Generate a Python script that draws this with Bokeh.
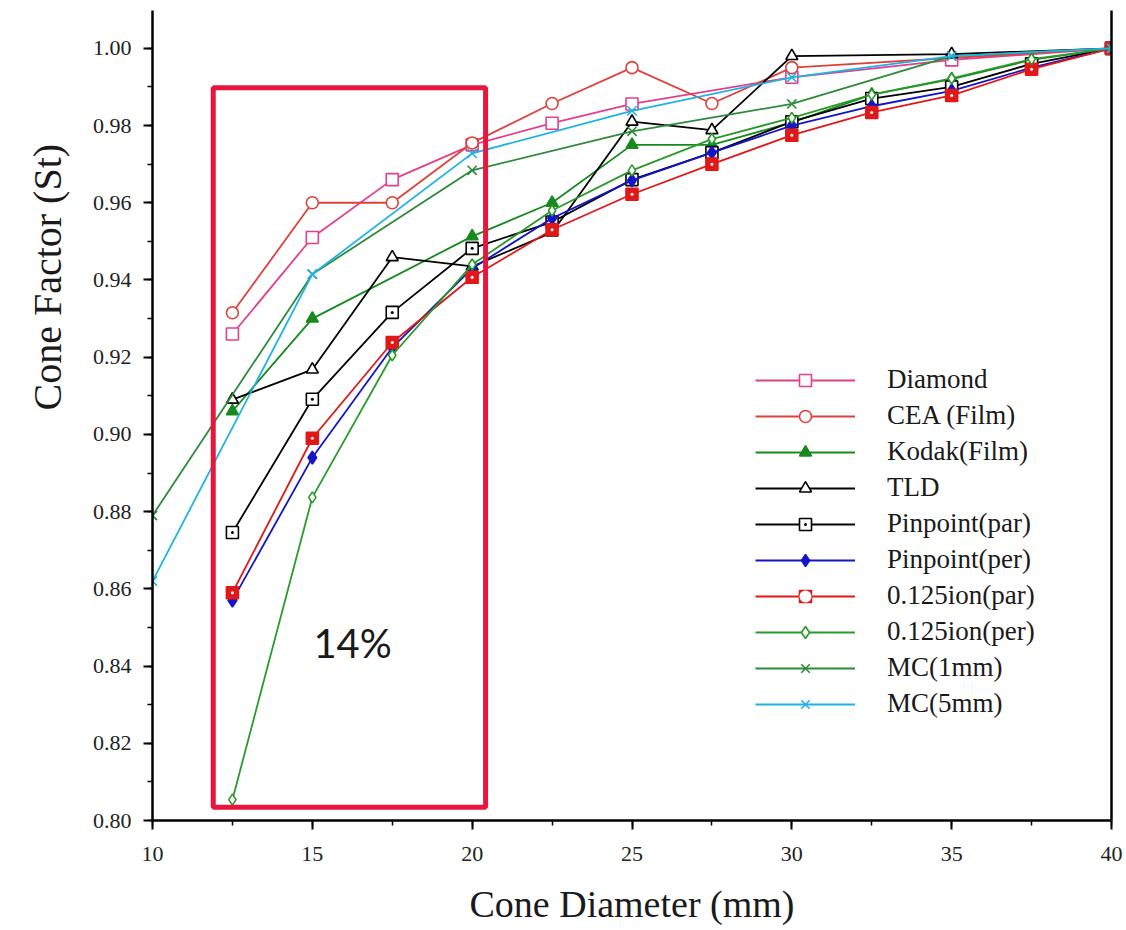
from bokeh.plotting import figure
from bokeh.models import (Range1d, LinearAxis, SingleIntervalTicker, FixedTicker,
                          PrintfTickFormatter, Legend, LegendItem, Label, BoxAnnotation,
                          Title)
from bokeh.embed import file_html
from bokeh.resources import INLINE

# Cone diameters (mm)
x_all = [12.5, 15, 17.5, 20, 22.5, 25, 27.5, 30, 32.5, 35, 37.5, 40]
x_mc = [10, 15, 20, 25, 30, 35, 40]

x_diamond = [12.5, 15, 17.5, 20, 22.5, 25, 30, 35, 40]
y_diamond = [0.926, 0.951, 0.966, 0.975, 0.9806, 0.9856, 0.9925, 0.997, 1.000]

x_cea = [12.5, 15, 17.5, 20, 22.5, 25, 27.5, 30, 40]
y_cea = [0.9315, 0.960, 0.960, 0.9755, 0.9857, 0.995, 0.9857, 0.995, 1.000]

x_kodak = [12.5, 15, 20, 22.5, 25, 27.5, 30, 32.5, 35, 37.5, 40]
y_kodak = [0.906, 0.930, 0.9513, 0.960, 0.975, 0.975, 0.9808, 0.988, 0.992, 0.997, 1.000]

x_tld = [12.5, 15, 17.5, 20, 22.5, 25, 27.5, 30, 35, 40]
y_tld = [0.909, 0.9168, 0.9459, 0.9435, 0.9523, 0.981, 0.9788, 0.998, 0.9985, 1.000]

y_pp_par = [0.8746, 0.9091, 0.9316, 0.9482, 0.955, 0.966, 0.973, 0.981, 0.987, 0.990, 0.996, 1.000]
y_pp_per = [0.857, 0.894, 0.9225, 0.943, 0.956, 0.9658, 0.973, 0.980, 0.985, 0.989, 0.995, 1.000]
y_ion_par = [0.859, 0.899, 0.9238, 0.9407, 0.953, 0.9622, 0.970, 0.9775, 0.9834, 0.9878, 0.9946, 1.000]
y_ion_per = [0.8054, 0.8837, 0.9205, 0.944, 0.958, 0.9684, 0.9765, 0.982, 0.988, 0.9922, 0.9972, 1.000]

y_mc1 = [0.879, 0.9415, 0.9684, 0.9785, 0.9856, 0.998, 1.000]
y_mc5 = [0.862, 0.9415, 0.9728, 0.9838, 0.9925, 0.998, 1.000]

# highlighted region: left, right, bottom, top
box_bounds = (11.9, 20.42, 0.8034, 0.9898)
box_text = "14%"

SERIF = "Liberation Serif"

p = figure(width=1126, height=930,
           x_range=Range1d(10, 40), y_range=Range1d(0.80, 1.0098),
           output_backend="svg", toolbar_location=None,
           min_border_left=152, min_border_right=15,
           min_border_top=10, min_border_bottom=110)
p.grid.visible = False
p.outline_line_color = None
p.background_fill_color = "white"
p.border_fill_color = "white"

# x axis
xa = p.xaxis[0]
xa.ticker = SingleIntervalTicker(interval=5, num_minor_ticks=2)
xa.axis_label = "Cone Diameter (mm)"
xa.axis_label_text_font = SERIF
xa.axis_label_text_font_size = "38px"
xa.axis_label_text_font_style = "normal"
xa.axis_label_text_color = "#1a1a1a"
xa.axis_label_standoff = 19
xa.major_label_standoff = 17

# y axis
ya = p.yaxis[0]
ya.ticker = SingleIntervalTicker(interval=0.02, num_minor_ticks=2)
ya.formatter = PrintfTickFormatter(format="%.2f")
ya.major_label_standoff = 12

for ax in (xa, ya):
    ax.major_label_text_font = SERIF
    ax.major_label_text_font_size = "22px"
    ax.major_label_text_font_style = "normal"
    ax.major_label_text_color = "#222222"
    ax.axis_line_width = 2.5
    ax.major_tick_line_width = 2
    ax.minor_tick_line_width = 1.5
    ax.major_tick_in = 0
    ax.major_tick_out = 9
    ax.minor_tick_in = 0
    ax.minor_tick_out = 5

# plain right-hand spine
ra = LinearAxis(ticker=FixedTicker(ticks=[]), axis_line_width=2.5,
                major_tick_line_color=None, minor_tick_line_color=None,
                major_label_text_color=None)
p.add_layout(ra, "right")

# vertical axis title, starting partway up the frame
p.add_layout(Title(text="Cone Factor (St)", align="left", offset=410,
                   standoff=40, text_font=SERIF, text_font_size="40px",
                   text_font_style="normal", text_color="#1a1a1a"), "left")

# highlighted small-cone region
p.add_layout(BoxAnnotation(left=box_bounds[0], right=box_bounds[1],
                           bottom=box_bounds[2], top=box_bounds[3],
                           fill_alpha=0, line_color="#e8163c", line_alpha=1.0,
                           line_width=5))
p.add_layout(Label(x=16.26, y=0.846, text=box_text, text_align="center",
                   text_baseline="middle", text_font="Lato",
                   text_font_size="40px", text_color="#1a1a1a"))

items = []


def series(name, xs, ys, color, marker, size, fill, dot=None):
    r_line = p.line(xs, ys, line_color=color, line_width=1.8)
    r_pts = p.scatter(xs, ys, marker=marker, size=size, line_color=color,
                      fill_color=fill, line_width=1.6)
    rs = [r_line, r_pts]
    if dot is not None:
        rs.append(p.scatter(xs, ys, marker="circle", size=3, line_color=None,
                            fill_color=dot))
    items.append(LegendItem(label=name, renderers=rs))


series("Diamond", x_diamond, y_diamond, "#e0408c", "square", 12, "white")
series("CEA (Film)", x_cea, y_cea, "#e0413a", "circle", 12, "white")
series("Kodak(Film)", x_kodak, y_kodak, "#178a1e", "triangle", 12, "#178a1e")
series("TLD", x_tld, y_tld, "black", "triangle", 12, "white")
series("Pinpoint(par)", x_all, y_pp_par, "black", "square_dot", 12, "white")
series("Pinpoint(per)", x_all, y_pp_per, "#1414c8", "diamond", 13, "#1414c8")
series("0.125ion(par)", x_all, y_ion_par, "#e01818", "square", 12, "#e01818", dot="white")
series("0.125ion(per)", x_all, y_ion_per, "#2a9a2a", "diamond", 11, "white")
series("MC(1mm)", x_mc, y_mc1, "#2e8b3a", "x", 13, None)
series("MC(5mm)", x_mc, y_mc5, "#1fb2e6", "x", 13, None)

legend = Legend(items=items, location=(603, 101), orientation="vertical",
                glyph_width=100, glyph_height=30, label_height=30, spacing=5,
                padding=0, margin=0, label_standoff=32,
                label_text_font=SERIF, label_text_font_size="27px",
                label_text_color="#1a1a1a",
                border_line_color=None, background_fill_alpha=0)
p.add_layout(legend, "center")

open("out.html", "w").write(file_html(p, INLINE))
